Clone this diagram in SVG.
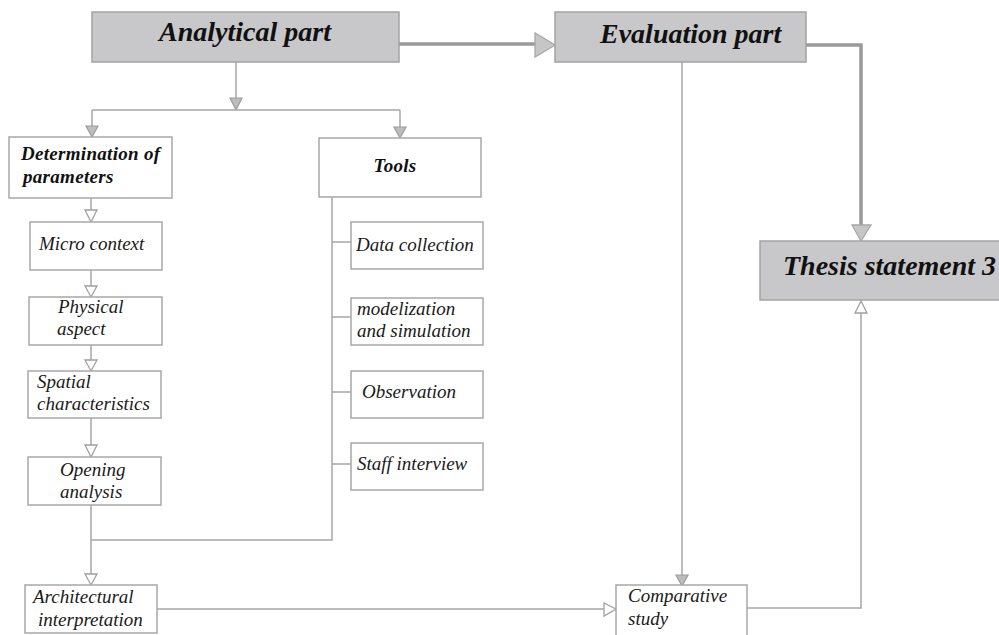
<svg xmlns="http://www.w3.org/2000/svg" width="999" height="635" viewBox="0 0 999 635">
  <style>
    .bg { fill: #ffffff; }
    .main { fill: #c8c8ca; stroke: #a3a3a3; stroke-width: 1.5; }
    .box { fill: #ffffff; stroke: #a8a8a8; stroke-width: 1.5; }
    text { font-family: "Liberation Serif", "DejaVu Serif", serif; }
    .title { font-size: 28px; font-weight: bold; font-style: italic; fill: #111; }
    .head { font-size: 19px; font-weight: bold; font-style: italic; fill: #111; letter-spacing: 0.3px; }
    .label { font-size: 19px; font-style: italic; fill: #1a1a1a; }
    .line { fill: none; stroke: #a6a6a6; stroke-width: 1.5; }
    .thick { fill: none; stroke: #9a9a9a; stroke-width: 3.5; }
    .head-fill { fill: #bdbdbd; stroke: #9c9c9c; stroke-width: 1.2; }
    .head-open { fill: #ffffff; stroke: #a0a0a0; stroke-width: 1.3; }
    .head-big { fill: #c6c6c6; stroke: #a8a8a8; stroke-width: 1.3; }
  </style>

  <rect class="bg" x="0" y="0" width="999" height="635"/>

  <!-- connectors -->
  <g id="connectors">
    <!-- analytical -> evaluation -->
    <polyline class="thick" points="399,44 536,44"/>
    <polygon class="head-big" points="535,33 535,57 555,45"/>
    <!-- evaluation -> thesis statement -->
    <polyline class="thick" points="806,45 861,45 861,226"/>
    <polygon class="head-big" points="852,225 871,225 861,241"/>

    <!-- analytical -> split -->
    <polyline class="line" points="236,62 236,98"/>
    <polygon class="head-fill" points="230,98 242,98 236,110"/>
    <polyline class="line" points="92,110 400,110"/>
    <polyline class="line" points="92,110 92,126"/>
    <polygon class="head-fill" points="86,126 98,126 92,137"/>
    <polyline class="line" points="400,110 400,127"/>
    <polygon class="head-fill" points="394,127 406,127 400,138"/>

    <!-- parameter chain -->
    <polyline class="line" points="91,198 91,210"/>
    <polygon class="head-open" points="85,210 97,210 91,222"/>
    <polyline class="line" points="91,270 91,286"/>
    <polygon class="head-open" points="85,286 97,286 91,297"/>
    <polyline class="line" points="91,345 91,360"/>
    <polygon class="head-open" points="85,360 97,360 91,371"/>
    <polyline class="line" points="91,418 91,445"/>
    <polygon class="head-open" points="85,445 97,445 91,457"/>
    <polyline class="line" points="91,505 91,574"/>
    <polygon class="head-open" points="85,574 97,574 91,585"/>

    <!-- tools trunk and branches -->
    <polyline class="line" points="332,197 332,540 91,540"/>
    <polyline class="line" points="332,242 351,242"/>
    <polyline class="line" points="332,317 351,317"/>
    <polyline class="line" points="332,392 351,392"/>
    <polyline class="line" points="332,464 351,464"/>

    <!-- architectural interpretation -> comparative study -->
    <polyline class="line" points="157,609 604,609"/>
    <polygon class="head-open" points="604,603 604,616 616,609"/>
    <!-- evaluation -> comparative study -->
    <polyline class="line" points="682,62 682,575"/>
    <polygon class="head-fill" points="676,575 688,575 682,586"/>
    <!-- comparative study -> thesis statement -->
    <polyline class="line" points="747,608 861,608 861,313"/>
    <polygon class="head-open" points="855,313 867,313 861,301"/>
  </g>

  <g id="analytical">
    <rect class="main" x="92" y="12" width="307" height="50"/>
    <text class="title" x="245" y="41" text-anchor="middle">Analytical part</text>
  </g>

  <g id="evaluation">
    <rect class="main" x="555" y="12" width="251" height="50"/>
    <text class="title" x="600" y="43">Evaluation part</text>
  </g>

  <g id="thesis">
    <rect class="main" x="760" y="241" width="250" height="59"/>
    <text class="title" x="783" y="275">Thesis statement 3</text>
  </g>

  <g id="determination">
    <rect class="box" x="9" y="137" width="163" height="61"/>
    <text class="head" x="21" y="160">Determination of</text>
    <text class="head" x="23" y="183">parameters</text>
  </g>

  <g id="tools">
    <rect class="box" x="319" y="138" width="162" height="59"/>
    <text class="head" x="395" y="172" text-anchor="middle">Tools</text>
  </g>

  <g id="micro-context">
    <rect class="box" x="30" y="222" width="132" height="48"/>
    <text class="label" x="39" y="250">Micro context</text>
  </g>

  <g id="physical-aspect">
    <rect class="box" x="29" y="297" width="133" height="48"/>
    <text class="label" x="58" y="313">Physical</text>
    <text class="label" x="57" y="335">aspect</text>
  </g>

  <g id="spatial-characteristics">
    <rect class="box" x="28" y="371" width="133" height="47"/>
    <text class="label" x="37" y="388">Spatial</text>
    <text class="label" x="37" y="410">characteristics</text>
  </g>

  <g id="opening-analysis">
    <rect class="box" x="28" y="457" width="133" height="48"/>
    <text class="label" x="60" y="476">Opening</text>
    <text class="label" x="60" y="498">analysis</text>
  </g>

  <g id="architectural-interpretation">
    <rect class="box" x="25" y="585" width="132" height="48"/>
    <text class="label" x="33" y="603">Architectural</text>
    <text class="label" x="38" y="626">interpretation</text>
  </g>

  <g id="data-collection">
    <rect class="box" x="351" y="222" width="132" height="47"/>
    <text class="label" x="356" y="251">Data collection</text>
  </g>

  <g id="modelization">
    <rect class="box" x="351" y="298" width="132" height="47"/>
    <text class="label" x="357" y="315">modelization</text>
    <text class="label" x="357" y="337">and simulation</text>
  </g>

  <g id="observation">
    <rect class="box" x="351" y="371" width="132" height="47"/>
    <text class="label" x="362" y="398">Observation</text>
  </g>

  <g id="staff-interview">
    <rect class="box" x="351" y="443" width="132" height="47"/>
    <text class="label" x="357" y="470">Staff interview</text>
  </g>

  <g id="comparative-study">
    <rect class="box" x="616" y="585" width="131" height="60"/>
    <text class="label" x="628" y="602">Comparative</text>
    <text class="label" x="628" y="625">study</text>
  </g>
</svg>
